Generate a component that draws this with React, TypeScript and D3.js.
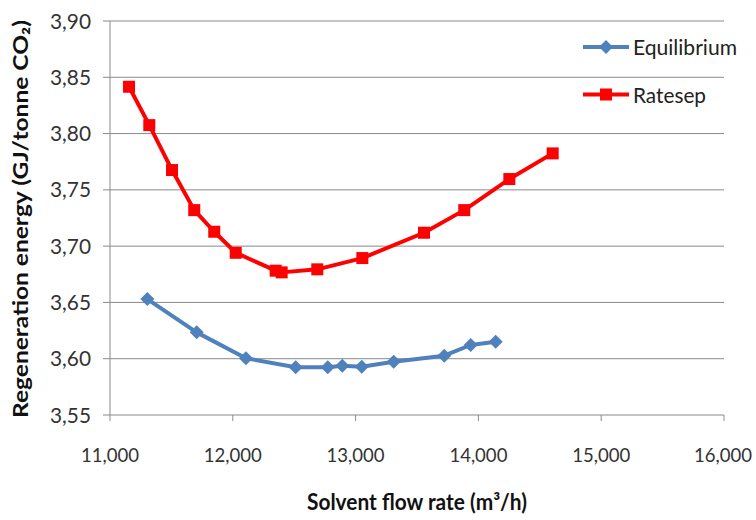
import React from 'react';
import * as d3 from 'd3';

const eqFlow = [11304, 11706, 12107, 12512, 12773, 12892, 13050, 13310, 13722, 13937, 14141];
const eqEnergy = [3.653, 3.6234, 3.6004, 3.5924, 3.5924, 3.5938, 3.5929, 3.5973, 3.6027, 3.6122, 3.6151];
const rsFlow = [11155, 11320, 11505, 11686, 11849, 12024, 12349, 12398, 12688, 13055, 13557, 13885, 14252, 14605];
const rsEnergy = [3.8416, 3.8075, 3.7676, 3.732, 3.7128, 3.6941, 3.6782, 3.6767, 3.6794, 3.6894, 3.7119, 3.732, 3.7596, 3.7824];
const xTicks = [11000, 12000, 13000, 14000, 15000, 16000];
const yTicks = [3.55, 3.6, 3.65, 3.7, 3.75, 3.8, 3.85, 3.9];
const seriesNames = ['Equilibrium', 'Ratesep'];

const W = 756, H = 520;
const FONT = 'Lato, "Open Sans", sans-serif';

export default function App() {
  const x = d3.scaleLinear().domain([11000, 16000]).range([110, 724]);
  const y = d3.scaleLinear().domain([3.55, 3.9]).range([415, 21]);
  const line = d3.line<[number, number]>().x(d => x(d[0])).y(d => y(d[1]));
  const eq: [number, number][] = eqFlow.map((f, i) => [f, eqEnergy[i]]);
  const rs: [number, number][] = rsFlow.map((f, i) => [f, rsEnergy[i]]);
  const blue = '#4F81BD', red = '#FF0000';
  const diamond = (cx: number, cy: number, r: number) => `M${cx},${cy - r}L${cx + r},${cy}L${cx},${cy + r}L${cx - r},${cy}Z`;
  const fmtX = d3.format(',');
  const fmtY = (v: number) => v.toFixed(2).replace('.', ',');

  return (
    <svg width={W} height={H} style={{ position: 'absolute', left: 0, top: 0, background: '#fff' }} fontFamily={FONT}>
      {/* gridlines */}
      {yTicks.map(t => (
        <line key={'g' + t} x1={103} x2={724} y1={y(t)} y2={y(t)} stroke="#8a8a8a" strokeWidth={1} />
      ))}
      {/* y axis */}
      <line x1={110} x2={110} y1={21} y2={415} stroke="#8a8a8a" strokeWidth={1} />
      {/* x axis ticks */}
      {xTicks.map(t => (
        <line key={'xt' + t} x1={x(t)} x2={x(t)} y1={415} y2={421} stroke="#8a8a8a" strokeWidth={1} />
      ))}
      {yTicks.map(t => (
        <text key={'yl' + t} x={91} y={y(t)} dy="0.36em" textAnchor="end" fontSize={21} fill="#333" textLength={41} lengthAdjust="spacingAndGlyphs">{fmtY(t)}</text>
      ))}
      {xTicks.map((t, i) => {
        const last = i === xTicks.length - 1;
        return (
          <text key={'xl' + t} x={last ? 752 : x(t)} y={462} textAnchor={last ? 'end' : 'middle'} fontSize={20} fill="#333" textLength={58} lengthAdjust="spacingAndGlyphs">{fmtX(t)}</text>
        );
      })}
      {/* series */}
      <path d={line(eq) || ''} fill="none" stroke={blue} strokeWidth={4} strokeLinejoin="round" />
      {eq.map((d, i) => (
        <path key={'eq' + i} d={diamond(x(d[0]), y(d[1]), 7)} fill={blue} />
      ))}
      <path d={line(rs) || ''} fill="none" stroke={red} strokeWidth={4} strokeLinejoin="round" />
      {rs.map((d, i) => (
        <rect key={'rs' + i} x={x(d[0]) - 6} y={y(d[1]) - 6} width={12} height={12} fill={red} />
      ))}
      {/* legend */}
      <line x1={583} x2={629} y1={47} y2={47} stroke={blue} strokeWidth={4} />
      <path d={diamond(606, 47, 7)} fill={blue} />
      <text x={633} y={55} fontSize={21} fill="#222" textLength={104} lengthAdjust="spacingAndGlyphs">{seriesNames[0]}</text>
      <line x1={583} x2={629} y1={94.5} y2={94.5} stroke={red} strokeWidth={4} />
      <rect x={600} y={88.5} width={12} height={12} fill={red} />
      <text x={633} y={102.5} fontSize={21} fill="#222" textLength={73} lengthAdjust="spacingAndGlyphs">{seriesNames[1]}</text>
      {/* axis titles */}
      <text x={417} y={510} textAnchor="middle" fontSize={22} fontWeight="bold" fill="#111" textLength={220} lengthAdjust="spacingAndGlyphs">Solvent flow rate (m³/h)</text>
      <text transform="translate(28,219) rotate(-90)" textAnchor="middle" fontSize={21} fontWeight="bold" fill="#111" textLength={398} lengthAdjust="spacingAndGlyphs">Regeneration energy (GJ/tonne CO₂)</text>
    </svg>
  );
}
